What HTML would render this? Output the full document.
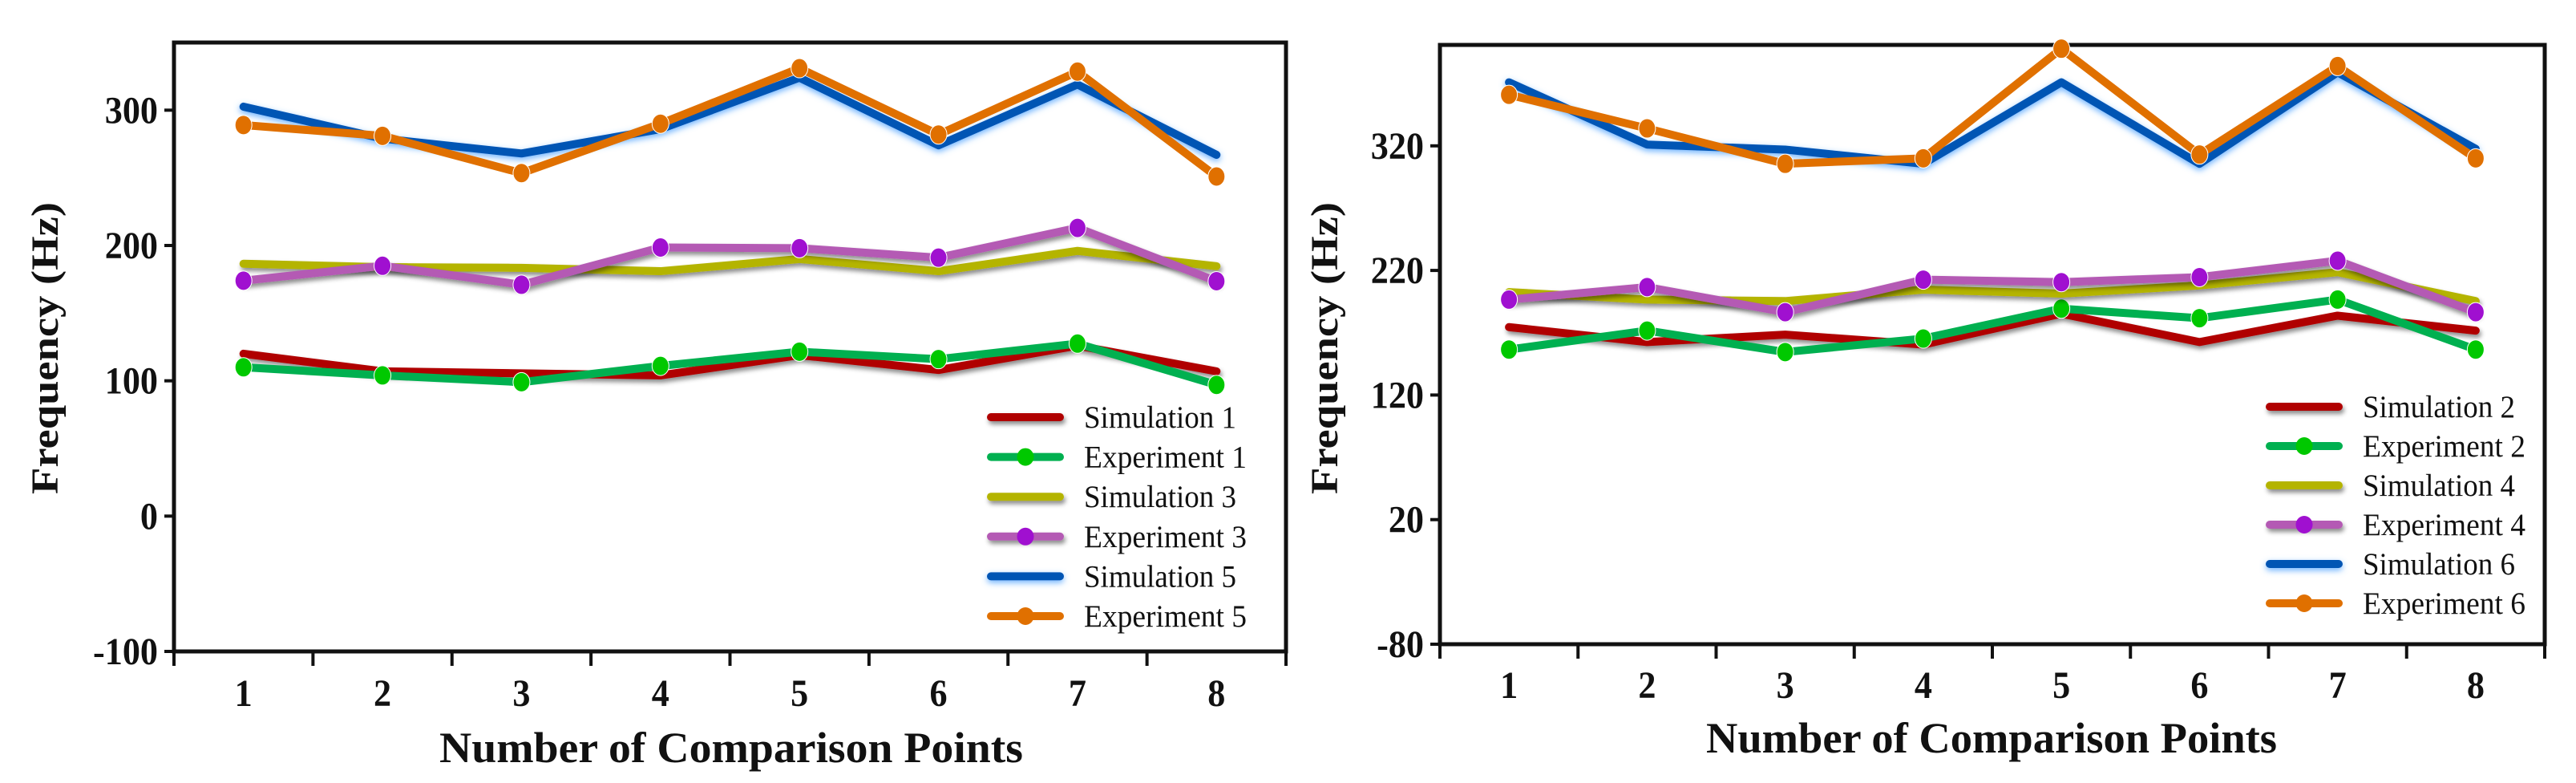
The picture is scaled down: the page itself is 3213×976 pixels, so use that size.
<!DOCTYPE html>
<html><head><meta charset="utf-8"><style>
html,body{margin:0;padding:0;background:#fff;}
svg{display:block;}
svg text{font-family:"Liberation Serif","Times New Roman",serif;fill:#111;}
</style></head><body>
<svg id="fig" width="3213" height="976" viewBox="0 0 3213 976" font-family="Liberation Serif, serif" xmlns="http://www.w3.org/2000/svg">
<defs>
<filter id="shadow" filterUnits="userSpaceOnUse" x="0" y="0" width="3213" height="976"><feDropShadow dx="2" dy="4" stdDeviation="3" flood-color="#000" flood-opacity="0.45"/></filter>
<filter id="glow" filterUnits="userSpaceOnUse" x="0" y="0" width="3213" height="976"><feDropShadow dx="0" dy="3" stdDeviation="4" flood-color="#4aa0ff" flood-opacity="0.8"/></filter>
</defs>
</svg>
<script>
const categories = [1,2,3,4,5,6,7,8];
// Left chart
const leftTicks = [300,200,100,0,-100];
const sim1 = [120,107,105.5,104,119,108,126,107];
const exp1 = [110,104,99,111,121.5,116,127.5,97];
const sim3 = [186.5,184,183.5,181,190,181,196,184.7];
const exp3 = [174,185,171,198.5,198,191,213,173.6];
const sim5 = [302.6,279,268,286,324,274,319,267];
const exp5 = [289,281,253.5,290,331,282,328.5,251];
// Right chart
const rightTicks = [320,220,120,20,-80];
const sim2 = [174.5,162.5,168.5,160.5,185.3,162.5,183.7,171.7];
const exp2 = [156.5,171.7,154.5,165.3,189.3,181.7,196.6,156.5];
const sim4 = [202.6,196.6,195.4,204.6,201.4,208,218.6,195.4];
const exp4 = [196.6,206.6,186.5,212.6,210.6,214.6,227.8,186.5];
const sim6 = [371,321,317,305.6,371,305.6,379,317.6];
const exp6 = [361,334,305.6,310,398,313,384,310];

const NS='http://www.w3.org/2000/svg';
const svg=document.getElementById('fig');
const FF='Liberation Serif, Times New Roman, serif';
function mk(tag,attrs,parent){const e=document.createElementNS(NS,tag);for(const k in attrs)e.setAttribute(k,attrs[k]);if(tag==='text')e.setAttribute('font-family',FF);(parent||svg).appendChild(e);return e;}

function chart(cfg){
  const g=mk('g',{});
  
  
  const L=cfg.L,R=cfg.R,T=cfg.T,B=cfg.B;
  const bw=(R-L)/categories.length;
  const x=i=>L+bw*(i+0.5);
  const y=v=>B-(v-cfg.min)/(cfg.max-cfg.min)*(B-T);
  const fr=mk('rect',{x:L,y:T,width:R-L,height:B-T,fill:'none',stroke:'#111','stroke-width':5},g);
  
  
  cfg.ticks.forEach(t=>{
    const ty=y(t);
    const tl=mk('line',{x1:L-12,x2:L,y1:ty,y2:ty,stroke:'#111','stroke-width':4},g);
    
    
    const tx=mk('text',{x:L-20,y:ty+16,'text-anchor':'end','font-size':48,'font-weight':'bold',transform:`translate(${L-20},0) scale(0.92,1) translate(${-(L-20)},0)`},g);
    tx.textContent=String(t);
    
    
  });
  for(let i=0;i<=categories.length;i++){
    const tl=mk('line',{x1:L+bw*i,x2:L+bw*i,y1:B,y2:B+18,stroke:'#111','stroke-width':4},g);
    
    
  }
  categories.forEach((c,i)=>{
    const tx=mk('text',{x:x(i),y:cfg.xlabY,'text-anchor':'middle','font-size':48,'font-weight':'bold',transform:`translate(${x(i)},0) scale(0.92,1) translate(${-x(i)},0)`},g);
    tx.textContent=String(c);
    
    
  });
  const xt=mk('text',{x:cfg.xtX,y:cfg.xtY,'text-anchor':'middle','font-size':54,'font-weight':'bold',textLength:cfg.xtW,lengthAdjust:'spacingAndGlyphs'},g);
  xt.textContent='Number of Comparison Points';
  
  
  const yt=mk('text',{x:0,y:0,'text-anchor':'middle','font-size':48,'font-weight':'bold',textLength:364,lengthAdjust:'spacingAndGlyphs',transform:`translate(${cfg.ytX},434) rotate(-90)`},g);
  yt.textContent='Frequency (Hz)';
  
  
  cfg.series.forEach(s=>{
    const sg=mk('g',{},g);
    
    
    const pts=s.data.map((v,i)=>x(i)+','+y(v)).join(' ');
    const pa={points:pts,fill:'none',stroke:s.color,'stroke-width':10,'stroke-linejoin':'round','stroke-linecap':'round'};
    if(s.filter)pa.filter=s.filter;
    const pl=mk('polyline',pa,sg);
    
    
    if(s.marker){
      s.data.forEach((v,i)=>{
        const c=mk('ellipse',{cx:x(i),cy:y(v),rx:10.5,ry:12,fill:s.marker,stroke:'#fff','stroke-width':1},sg);
        
        
      });
    }
  });
  const lg=mk('g',{},g);
  
  
  cfg.series.forEach((s,k)=>{
    const ry=cfg.legY+k*cfg.legDY;
    const e=mk('g',{},lg);
    
    
    const la={d:`M${cfg.legX} ${ry} L${cfg.legX+86} ${ry}`,stroke:s.color,'stroke-width':10,'stroke-linecap':'round',fill:'none'};
    if(s.filter)la.filter=s.filter;
    mk('path',la,e);
    if(s.marker) mk('ellipse',{cx:cfg.legX+43,cy:ry,rx:10.5,ry:11,fill:s.marker},e);
    const t=mk('text',{x:cfg.legX+116,y:ry+13,'font-size':39,textLength:s.label.startsWith('Sim')?190:203,lengthAdjust:'spacingAndGlyphs'},e);
    t.textContent=s.label;
  });
}
const RED='#b00000',GRN='#00b050',GM='#00c800',YEL='#b4b400',PUR='#b45ab4',PM='#a010d0',BLU='#0055b4',ORA='#e07000';
chart({name:'left-chart',L:217,R:1604,T:53,B:812,min:-100,max:350,ticks:leftTicks,xlabY:880,xtX:912,xtY:950,xtW:728,ytX:72,
  legX:1236,legY:520,legDY:49.6,
  series:[
   {label:'Simulation 1',data:sim1,color:RED,filter:'url(#shadow)'},
   {label:'Experiment 1',data:exp1,color:GRN,marker:GM},
   {label:'Simulation 3',data:sim3,color:YEL,filter:'url(#shadow)'},
   {label:'Experiment 3',data:exp3,color:PUR,marker:PM,filter:'url(#shadow)'},
   {label:'Simulation 5',data:sim5,color:BLU,filter:'url(#glow)'},
   {label:'Experiment 5',data:exp5,color:ORA,marker:ORA}]});
chart({name:'right-chart',L:1796,R:3174,T:56,B:803,min:-80,max:401,ticks:rightTicks,xlabY:870,xtX:2484,xtY:938,xtW:712,ytX:1668,
  legX:2831,legY:507,legDY:49,
  series:[
   {label:'Simulation 2',data:sim2,color:RED,filter:'url(#shadow)'},
   {label:'Experiment 2',data:exp2,color:GRN,marker:GM},
   {label:'Simulation 4',data:sim4,color:YEL,filter:'url(#shadow)'},
   {label:'Experiment 4',data:exp4,color:PUR,marker:PM,filter:'url(#shadow)'},
   {label:'Simulation 6',data:sim6,color:BLU,filter:'url(#glow)'},
   {label:'Experiment 6',data:exp6,color:ORA,marker:ORA}]});
</script>
</body></html>
